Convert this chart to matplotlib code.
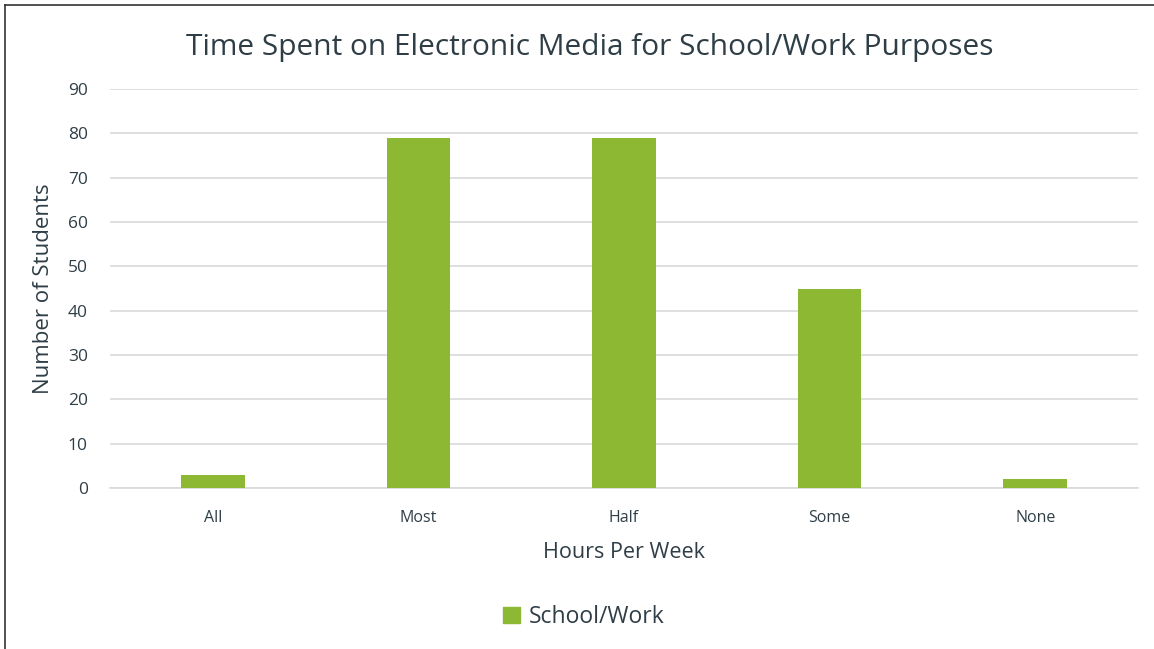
import matplotlib.pyplot as plt
from matplotlib.lines import Line2D
from matplotlib.patches import Patch

categories = ["All", "Most", "Half", "Some", "None"]
school_work = [3, 79, 79, 45, 2]
y_ticks = [0, 10, 20, 30, 40, 50, 60, 70, 80, 90]

green = "#8CB833"
text_col = "#2F3E46"
grid_col = "#D9D9D9"

plt.rcParams['font.family'] = ['Open Sans', 'DejaVu Sans']

fig = plt.figure(figsize=(11.54, 6.49), dpi=100)
ax = fig.add_axes([110 / 1154, 1 - 488 / 649, 1028 / 1154, 399 / 649])

x = range(len(categories))
ax.bar(x, school_work, width=0.31, color=green, zorder=3)

ax.set_xlim(-0.5, len(categories) - 0.5)
ax.set_ylim(0, 90)
ax.set_yticks(y_ticks)
ax.set_xticks(list(x))
ax.set_xticklabels(categories, fontsize=11.5, color=text_col)
ax.tick_params(axis='y', labelsize=12.5, colors=text_col, length=0, pad=16)
ax.tick_params(axis='x', length=0, pad=15.5)
ax.grid(axis='y', color=grid_col, linewidth=1.2, zorder=0)

for side in ['top', 'right', 'left']:
    ax.spines[side].set_visible(False)
ax.spines['bottom'].set_color(grid_col)
ax.spines['bottom'].set_linewidth(1.2)

ax.set_xlabel("Hours Per Week", fontsize=15.5, color=text_col, labelpad=12)
ax.set_ylabel("Number of Students", fontsize=16, color=text_col, labelpad=10)

fig.text(590 / 1154, 1 - 47 / 649, "Time Spent on Electronic Media for School/Work Purposes",
         fontsize=21.5, color=text_col, ha='center', va='center')

fig.legend(handles=[Patch(color=green, label="School/Work")], loc='center',
           bbox_to_anchor=(584 / 1154, 1 - 617 / 649), frameon=False,
           fontsize=16.5, labelcolor=text_col, handlelength=0.75, handleheight=0.75,
           handletextpad=0.4)

# frame along the top and left edges
fig.add_artist(Line2D([5 / 1154, 1], [1 - 5 / 649, 1 - 5 / 649], color='#333333', linewidth=1.2))
fig.add_artist(Line2D([5 / 1154, 5 / 1154], [0, 1 - 5 / 649], color='#333333', linewidth=1.2))

fig.savefig("out.png", dpi=100, facecolor='white')
